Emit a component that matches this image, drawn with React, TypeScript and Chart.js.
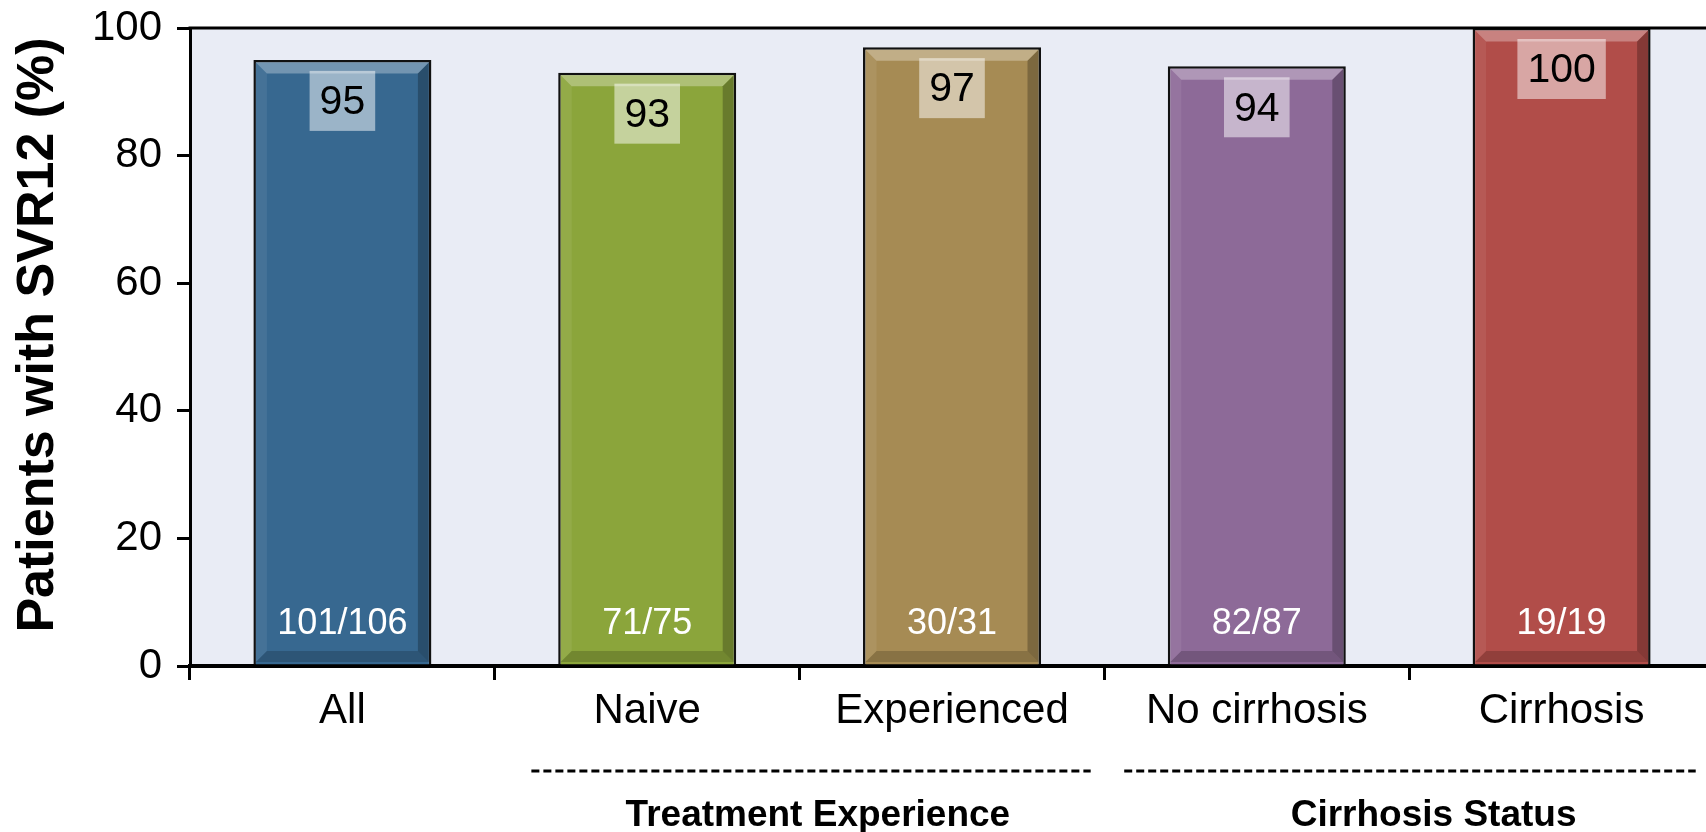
import React, { useEffect, useRef } from "react";
import { Chart, registerables } from "chart.js";

Chart.register(...registerables);

const categories = ["All", "Naive", "Experienced", "No cirrhosis", "Cirrhosis"];
const svrValues = [95, 93, 97, 94, 100];
const patientCounts = ["101/106", "71/75", "30/31", "82/87", "19/19"];
const barColors = ["#376890", "#8ba53b", "#a68b54", "#8d6a98", "#b14d49"];
const yTickValues = [0, 20, 40, 60, 80, 100];
const yAxisTitle = "Patients with SVR12 (%)";
const groupLabels = ["Treatment Experience", "Cirrhosis Status"];
const groupMembers = [
  [1, 2],
  [3, 4],
];
// extension of each group's dashed rule beyond its first / last category (in category units)
const groupRulePad = [
  [0.38, 0.455],
  [0.435, 0.44],
];

const FONT = "'Liberation Sans', Arial, Helvetica, sans-serif";

function poly(ctx: CanvasRenderingContext2D, pts: number[][], fill: string) {
  ctx.beginPath();
  ctx.moveTo(pts[0][0], pts[0][1]);
  for (let i = 1; i < pts.length; i++) ctx.lineTo(pts[i][0], pts[i][1]);
  ctx.closePath();
  ctx.fillStyle = fill;
  ctx.fill();
}

const decorPlugin = {
  id: "decor",
  beforeDraw(chart: any) {
    const { ctx, chartArea } = chart;
    const { left, top, right, bottom } = chartArea;
    ctx.save();
    ctx.fillStyle = "#e9ecf5";
    ctx.fillRect(left, top, right - left, bottom - top);
    ctx.restore();
  },
  afterDatasetsDraw(chart: any) {
    const ctx: CanvasRenderingContext2D = chart.ctx;
    const meta = chart.getDatasetMeta(0);
    ctx.save();
    meta.data.forEach((bar: any, i: number) => {
      const { x, y, base, width } = bar.getProps(["x", "y", "base", "width"], true);
      const bw = 2.5;
      const s = 11;
      const il = x - width / 2 + bw;
      const ir = x + width / 2 - bw;
      const it = y + bw;
      const ib = base - bw;
      poly(ctx, [[il, it], [ir, it], [ir - s, it + s], [il + s, it + s]], "rgba(255,255,255,0.3)");
      poly(ctx, [[il, it], [il + s, it + s], [il + s, ib - s], [il, ib]], "rgba(255,255,255,0.07)");
      poly(ctx, [[ir, it], [ir, ib], [ir - s, ib - s], [ir - s, it + s]], "rgba(0,0,0,0.25)");
      poly(ctx, [[il, ib], [ir, ib], [ir - s, ib - s], [il + s, ib - s]], "rgba(0,0,0,0.18)");

      // value box
      ctx.font = `41px ${FONT}`;
      const label = String(svrValues[i]);
      const tw = ctx.measureText(label).width;
      const bx = x - tw / 2 - 10;
      const by = y + 11;
      ctx.fillStyle = "rgba(255,255,255,0.5)";
      ctx.fillRect(bx, by, tw + 20, 60);
      ctx.fillStyle = "#000";
      ctx.textAlign = "center";
      ctx.textBaseline = "middle";
      ctx.fillText(label, x, by + 32);

      // counts
      ctx.font = `36px ${FONT}`;
      ctx.fillStyle = "#fff";
      ctx.fillText(patientCounts[i], x, base - 40);
    });
    ctx.restore();
  },
  afterDraw(chart: any) {
    const ctx: CanvasRenderingContext2D = chart.ctx;
    const { left, top, bottom } = chart.chartArea;
    const xs = chart.scales.x;
    ctx.save();
    ctx.strokeStyle = "#000";
    ctx.lineWidth = 3;
    ctx.beginPath();
    ctx.moveTo(left - 1.5, top);
    ctx.lineTo(chart.width, top);
    ctx.stroke();

    // y axis title
    ctx.save();
    ctx.translate(39, (top + bottom) / 2 - 12);
    ctx.rotate(-Math.PI / 2);
    ctx.font = `bold 52px ${FONT}`;
    ctx.fillStyle = "#000";
    ctx.textAlign = "center";
    ctx.textBaseline = "middle";
    ctx.fillText(yAxisTitle, 0, 0);
    ctx.restore();

    groupLabels.forEach((g, gi) => {
      const [a, b] = groupMembers[gi];
      const [p1, p2] = groupRulePad[gi];
      const x1 = xs.getPixelForValue(a - p1);
      const x2 = xs.getPixelForValue(b + p2);
      ctx.setLineDash([8, 4]);
      ctx.lineWidth = 2.8;
      ctx.strokeStyle = "#000";
      ctx.beginPath();
      ctx.moveTo(x1, 771);
      ctx.lineTo(x2, 771);
      ctx.stroke();
      ctx.setLineDash([]);
      ctx.font = `bold 37px ${FONT}`;
      ctx.fillStyle = "#000";
      ctx.textAlign = "center";
      ctx.textBaseline = "middle";
      ctx.fillText(g, xs.getPixelForValue((a + b) / 2 + 0.06 + gi * 0.02), 816);
    });
    ctx.restore();
  },
};

export default function App() {
  const ref = useRef<HTMLCanvasElement>(null);
  useEffect(() => {
    if (!ref.current) return;
    const chart = new Chart(ref.current, {
      type: "bar",
      data: {
        labels: categories,
        datasets: [
          {
            data: svrValues,
            backgroundColor: barColors,
            borderColor: "#111",
            borderWidth: 2.5,
            barPercentage: 0.584,
            categoryPercentage: 1,
          },
        ],
      },
      options: {
        responsive: false,
        animation: false,
        devicePixelRatio: 1,
        layout: { padding: { top: 28, left: 0, right: 0, bottom: 0 } },
        plugins: { legend: { display: false }, tooltip: { enabled: false } },
        scales: {
          x: {
            afterFit: (s: any) => {
              s.height = 166;
              s.paddingLeft = 0;
              s.paddingRight = 0;
            },
            border: { color: "#000", width: 4 },
            grid: {
              offset: true,
              drawOnChartArea: false,
              drawTicks: true,
              tickLength: 14,
              color: "#000",
              lineWidth: 3,
            },
            ticks: { color: "#000", font: { family: FONT, size: 42 }, padding: 6 },
          },
          y: {
            min: 0,
            max: 100,
            afterFit: (s: any) => {
              s.width = 190;
              s.paddingTop = 0;
              s.paddingBottom = 0;
            },
            afterBuildTicks: (s: any) => {
              s.ticks = yTickValues.map((v) => ({ value: v }));
            },
            border: { color: "#000", width: 3 },
            grid: {
              drawOnChartArea: false,
              tickLength: 13,
              color: "#000",
              lineWidth: 3,
            },
            ticks: { color: "#000", font: { family: FONT, size: 42 }, padding: 15 },
          },
        },
      },
      plugins: [decorPlugin],
    });
    return () => chart.destroy();
  }, []);

  return (
    <div
      style={{
        position: "fixed",
        left: 0,
        top: 0,
        width: 1706,
        height: 832,
        overflow: "hidden",
        background: "#fff",
      }}
    >
      <canvas ref={ref} width={1714} height={832} style={{ display: "block" }} />
    </div>
  );
}
